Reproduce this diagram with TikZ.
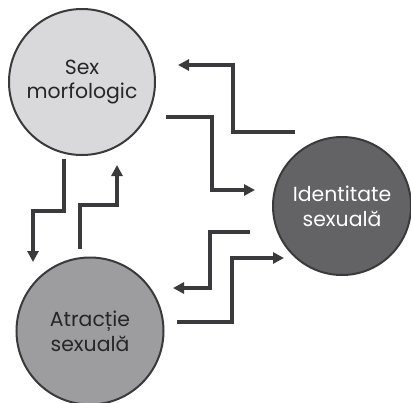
\documentclass[tikz,border=0pt]{standalone}
\usepackage{fontspec}
\setmainfont{Poppins}
\usetikzlibrary{arrows.meta}
\definecolor{ink}{HTML}{3A3A3C}
\definecolor{lightfill}{HTML}{D9D9DB}
\definecolor{midfill}{HTML}{9D9D9F}
\definecolor{darkfill}{HTML}{636365}
\tikzset{
  blob/.style={circle, draw=ink, line width=2bp, minimum size=#1, inner sep=0pt,
    align=center, font=\fontsize{20.5}{25}\selectfont},
  link/.style={draw=ink, line width=3.3bp, -{Triangle[length=11bp,width=11bp]}},
}
\begin{document}
\begin{tikzpicture}[x=1bp,y=-1bp]
  \useasboundingbox (0,0) rectangle (411,403);
  % the three circles
  \node[blob=146bp, fill=lightfill, text=black!85] (sex) at (82,82) {Sex\\morfologic};
  \node[blob=147bp, fill=midfill, text=black!85] (atr) at (90,331) {Atracție\\sexuală};
  \node[blob=138bp, fill=darkfill, text=white] (ide) at (342,206) {Identitate\\sexuală};
  % end points of the stepped connectors
  \coordinate (a1) at (295,132); \coordinate (a2) at (178,65);
  \coordinate (b1) at (166,117); \coordinate (b2) at (255,190);
  \coordinate (c1) at (250,232); \coordinate (c2) at (173,288);
  \coordinate (d1) at (177,322); \coordinate (d2) at (284,258);
  \coordinate (e1) at (64,159);  \coordinate (e2) at (33,262);
  \coordinate (f1) at (80,249);  \coordinate (f2) at (117,165);
  % identitate -> sex
  \draw[link] (a1) -- (233,132) -- (233,65) -- (a2);
  % sex -> identitate
  \draw[link] (b1) -- (212,117) -- (212,190) -- (b2);
  % identitate -> atractie
  \draw[link] (c1) -- (210,232) -- (210,288) -- (c2);
  % atractie -> identitate
  \draw[link] (d1) -- (232,322) -- (232,258) -- (d2);
  % sex -> atractie
  \draw[link] (e1) -- (64,211) -- (33,211) -- (e2);
  % atractie -> sex
  \draw[link] (f1) -- (80,205) -- (117,205) -- (f2);
\end{tikzpicture}
\end{document}
